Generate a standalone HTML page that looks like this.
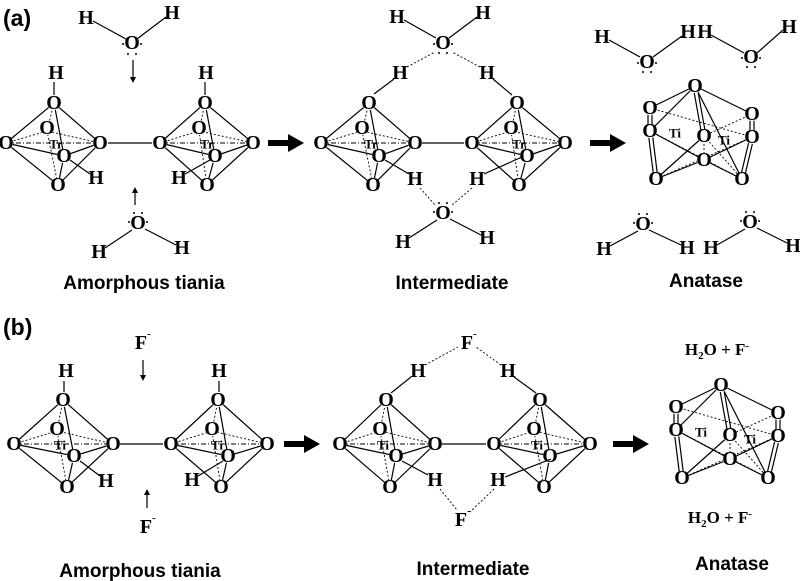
<!DOCTYPE html>
<html><head><meta charset="utf-8"><style>
html,body{margin:0;padding:0;background:#fff}
svg{display:block}
.o{font-family:"Liberation Serif",serif;font-weight:bold;font-size:20px;text-anchor:middle;dominant-baseline:central}
.t{font-family:"Liberation Serif",serif;font-weight:bold;font-size:13px;text-anchor:middle;dominant-baseline:central}
.lab{font-family:"Liberation Sans",sans-serif;font-weight:bold;font-size:19px;text-anchor:middle}
.s{stroke:#000;stroke-width:1.2;fill:none}
.d{stroke:#000;stroke-width:0.9;fill:none;stroke-dasharray:2 2}
.dd{stroke:#000;stroke-width:0.9;fill:none;stroke-dasharray:5 2 1 2}
.w{fill:#fff}
</style></head><body>
<svg width="800" height="581" viewBox="0 0 800 581" xmlns="http://www.w3.org/2000/svg">
<defs>
<g id="ar"><rect x="0" y="-3" width="22" height="6"/><polygon points="20,-9 36,0 20,9"/></g>
</defs>

<text x="3" y="26" font-family="Liberation Sans,sans-serif" font-weight="bold" font-size="23">(a)</text>
<text x="3" y="335" font-family="Liberation Sans,sans-serif" font-weight="bold" font-size="23">(b)</text>

<!-- ========== (a) amorphous ========== -->
<g transform="translate(6,143)">
<path class="s" d="M0,0 L48,-40 L94,0 L52,42 Z M0,0 L58,13 L94,0 M48,-40 L58,13 L52,42"/>
<path class="d" d="M0,0 L41,-12 L94,0 M48,-40 L41,-12 L52,42"/><path class="dd" d="M0,0 L94,0"/>
<circle class="w" cx="0" cy="0" r="7"/><circle class="w" cx="48" cy="-40" r="7"/><circle class="w" cx="94" cy="0" r="7"/><circle class="w" cx="52" cy="42" r="7"/><circle class="w" cx="41" cy="-15" r="7"/><circle class="w" cx="58" cy="13" r="7"/>
<text class="o" x="0" y="0">O</text><text class="o" x="48" y="-40">O</text><text class="o" x="94" y="0">O</text><text class="o" x="52" y="42">O</text><text class="o" x="41" y="-15">O</text><text class="o" x="58" y="13">O</text><text class="t" x="50" y="1">Tr</text>
</g>
<g transform="translate(160,143)">
<path class="s" d="M0,0 L45,-40 L93,0 L47,42 Z M0,0 L55,13 L93,0 M45,-40 L55,13 L47,42"/>
<path class="d" d="M0,0 L39,-12 L93,0 M45,-40 L39,-12 L47,42"/><path class="dd" d="M0,0 L93,0"/>
<circle class="w" cx="0" cy="0" r="7"/><circle class="w" cx="45" cy="-40" r="7"/><circle class="w" cx="93" cy="0" r="7"/><circle class="w" cx="47" cy="42" r="7"/><circle class="w" cx="39" cy="-15" r="7"/><circle class="w" cx="55" cy="13" r="7"/>
<text class="o" x="0" y="0">O</text><text class="o" x="45" y="-40">O</text><text class="o" x="93" y="0">O</text><text class="o" x="47" y="42">O</text><text class="o" x="39" y="-15">O</text><text class="o" x="55" y="13">O</text><text class="t" x="47" y="1">Tr</text>
</g>
<path class="s" d="M108,143 L152,143 M54,95 L54,82 M205,95 L205,82 M70,160 L90,174 M210,160 L185,174"/>
<text class="o" x="56" y="73">H</text><text class="o" x="206" y="73">H</text><text class="o" x="96" y="178">H</text><text class="o" x="179" y="178">H</text>
<!-- top water -->
<path class="s" d="M93,21 L126,39 M166,17 L137,39"/>
<text class="o" x="86" y="18">H</text><text class="o" x="172" y="13">H</text>
<text class="o" x="132" y="43">O</text><circle cx="123" cy="44" r="1"/><circle cx="141" cy="44" r="1"/><circle cx="128" cy="54" r="1"/><circle cx="136" cy="54" r="1"/>
<path class="s" d="M133,60 L133,80"/><polygon points="130,77 136,77 133,83"/>
<!-- bottom water -->
<path class="s" d="M135,205 L135,190"/><polygon points="132,193 138,193 135,187"/>
<text class="o" x="138" y="223">O</text><circle cx="129" cy="222" r="1"/><circle cx="147" cy="222" r="1"/><circle cx="134" cy="213" r="1"/><circle cx="142" cy="213" r="1"/>
<path class="s" d="M132,230 L105,248 M145,229 L176,245"/>
<text class="o" x="99" y="252">H</text><text class="o" x="182" y="248">H</text>
<text class="lab" x="144" y="289">Amorphous tiania</text>

<use href="#ar" x="268" y="143"/>

<!-- ========== (a) intermediate ========== -->
<g transform="translate(321,143)">
<path class="s" d="M0,0 L48,-40 L94,0 L52,42 Z M0,0 L58,13 L94,0 M48,-40 L58,13 L52,42"/>
<path class="d" d="M0,0 L41,-12 L94,0 M48,-40 L41,-12 L52,42"/><path class="dd" d="M0,0 L94,0"/>
<circle class="w" cx="0" cy="0" r="7"/><circle class="w" cx="48" cy="-40" r="7"/><circle class="w" cx="94" cy="0" r="7"/><circle class="w" cx="52" cy="42" r="7"/><circle class="w" cx="41" cy="-15" r="7"/><circle class="w" cx="58" cy="13" r="7"/>
<text class="o" x="0" y="0">O</text><text class="o" x="48" y="-40">O</text><text class="o" x="94" y="0">O</text><text class="o" x="52" y="42">O</text><text class="o" x="41" y="-15">O</text><text class="o" x="58" y="13">O</text><text class="t" x="50" y="1">Tr</text>
</g>
<g transform="translate(472,143)">
<path class="s" d="M0,0 L45,-40 L93,0 L47,42 Z M0,0 L55,13 L93,0 M45,-40 L55,13 L47,42"/>
<path class="d" d="M0,0 L39,-12 L93,0 M45,-40 L39,-12 L47,42"/><path class="dd" d="M0,0 L93,0"/>
<circle class="w" cx="0" cy="0" r="7"/><circle class="w" cx="45" cy="-40" r="7"/><circle class="w" cx="93" cy="0" r="7"/><circle class="w" cx="47" cy="42" r="7"/><circle class="w" cx="39" cy="-15" r="7"/><circle class="w" cx="55" cy="13" r="7"/>
<text class="o" x="0" y="0">O</text><text class="o" x="45" y="-40">O</text><text class="o" x="93" y="0">O</text><text class="o" x="47" y="42">O</text><text class="o" x="39" y="-15">O</text><text class="o" x="55" y="13">O</text><text class="t" x="47" y="1">Tr</text>
</g>
<path class="s" d="M422,143 L464,143 M374,94 L394,79 M512,95 L493,79 M385,160 L409,174 M522,157 L484,174"/>
<text class="o" x="400" y="73">H</text><text class="o" x="487" y="73">H</text><text class="o" x="415" y="179">H</text><text class="o" x="477" y="179">H</text>
<path class="s" d="M404,20 L436,38 M477,17 L449,38"/>
<text class="o" x="397" y="17">H</text><text class="o" x="483" y="13">H</text>
<text class="o" x="443" y="43">O</text><circle cx="434" cy="44" r="1"/><circle cx="452" cy="44" r="1"/><circle cx="439" cy="53" r="1"/><circle cx="447" cy="53" r="1"/>
<path class="d" d="M407,67 L435,52 M480,67 L452,52 M420,188 L436,206 M472,188 L451,206"/>
<text class="o" x="443" y="213">O</text><circle cx="434" cy="212" r="1"/><circle cx="452" cy="212" r="1"/><circle cx="439" cy="203" r="1"/><circle cx="447" cy="203" r="1"/>
<path class="s" d="M437,220 L409,238 M450,219 L481,235"/>
<text class="o" x="403" y="242">H</text><text class="o" x="487" y="238">H</text>
<text class="lab" x="452" y="289">Intermediate</text>

<use href="#ar" x="590" y="143"/>

<!-- ========== (a) anatase ========== -->
<g id="an">
<path class="s" d="M695,86 L650,108 M695,86 L752,114 M695,86 L650,131 M695,86 L742,179 M693,86 L702,136 M697,86 L706,136 M648,108 L648,131 M652,108 L652,131 M648,131 L654,179 M652,131 L658,179 M650,131 L704,160 M656,179 L704,160 M704,160 L742,179 M704,160 L752,137 M740,179 L750,137 M744,179 L754,137 M750,114 L750,137 M754,114 L754,137 M656,179 L704,136"/>
<path class="d" d="M650,108 L752,137 M752,114 L704,136 M656,179 L752,137 M704,136 L742,179 M650,131 L742,179 M704,136 L704,160"/>
<circle class="w" cx="695" cy="86" r="7"/><circle class="w" cx="650" cy="108" r="7"/><circle class="w" cx="752" cy="114" r="7"/><circle class="w" cx="650" cy="131" r="7"/><circle class="w" cx="704" cy="136" r="7"/><circle class="w" cx="752" cy="137" r="7"/><circle class="w" cx="704" cy="160" r="7"/><circle class="w" cx="656" cy="179" r="7"/><circle class="w" cx="742" cy="179" r="7"/>
<text class="o" x="695" y="86">O</text><text class="o" x="650" y="108">O</text><text class="o" x="752" y="114">O</text><text class="o" x="650" y="131">O</text><text class="o" x="704" y="136">O</text><text class="o" x="752" y="137">O</text><text class="o" x="704" y="160">O</text><text class="o" x="656" y="179">O</text><text class="o" x="742" y="179">O</text>
<text class="t" x="675" y="133">Ti</text><text class="t" x="724" y="140">Ti</text>
</g>
<path class="s" d="M609,40 L640,57 M682,36 L653,57 M711,35 L744,53 M783,30 L757,53"/>
<text class="o" x="602" y="37">H</text><text class="o" x="688" y="32">H</text><text class="o" x="705" y="32">H</text><text class="o" x="789" y="27">H</text>
<text class="o" x="647" y="62">O</text><circle cx="638" cy="63" r="1"/><circle cx="656" cy="63" r="1"/><circle cx="643" cy="72" r="1"/><circle cx="651" cy="72" r="1"/>
<text class="o" x="751" y="57">O</text><circle cx="742" cy="58" r="1"/><circle cx="760" cy="58" r="1"/><circle cx="747" cy="67" r="1"/><circle cx="755" cy="67" r="1"/>
<text class="o" x="643" y="224">O</text><circle cx="634" cy="223" r="1"/><circle cx="652" cy="223" r="1"/><circle cx="639" cy="214" r="1"/><circle cx="647" cy="214" r="1"/>
<text class="o" x="750" y="222">O</text><circle cx="741" cy="221" r="1"/><circle cx="759" cy="221" r="1"/><circle cx="746" cy="212" r="1"/><circle cx="754" cy="212" r="1"/>
<path class="s" d="M638,231 L610,246 M649,230 L681,245 M745,229 L717,245 M757,228 L787,243"/>
<text class="o" x="604" y="249">H</text><text class="o" x="687" y="248">H</text><text class="o" x="711" y="248">H</text><text class="o" x="793" y="246">H</text>
<text class="lab" x="706" y="287">Anatase</text>

<!-- ========== (b) amorphous ========== -->
<g transform="translate(14,444)">
<path class="s" d="M0,0 L49,-44 L99,0 L53,43 Z M0,0 L60,12 L99,0 M49,-44 L60,12 L53,43"/>
<path class="d" d="M0,0 L43,-13 L99,0 M49,-44 L43,-13 L53,43"/><path class="dd" d="M0,0 L99,0"/>
<circle class="w" cx="0" cy="0" r="7"/><circle class="w" cx="49" cy="-44" r="7"/><circle class="w" cx="99" cy="0" r="7"/><circle class="w" cx="53" cy="43" r="7"/><circle class="w" cx="43" cy="-15" r="7"/><circle class="w" cx="60" cy="12" r="7"/>
<text class="o" x="0" y="0">O</text><text class="o" x="49" y="-44">O</text><text class="o" x="99" y="0">O</text><text class="o" x="53" y="43">O</text><text class="o" x="43" y="-15">O</text><text class="o" x="60" y="12">O</text><text class="t" x="46" y="1">Ti</text>
</g>
<g transform="translate(171,444)">
<path class="s" d="M0,0 L47,-44 L96,0 L50,43 Z M0,0 L57,12 L96,0 M47,-44 L57,12 L50,43"/>
<path class="d" d="M0,0 L41,-13 L96,0 M47,-44 L41,-13 L50,43"/><path class="dd" d="M0,0 L96,0"/>
<circle class="w" cx="0" cy="0" r="7"/><circle class="w" cx="47" cy="-44" r="7"/><circle class="w" cx="96" cy="0" r="7"/><circle class="w" cx="50" cy="43" r="7"/><circle class="w" cx="41" cy="-15" r="7"/><circle class="w" cx="57" cy="12" r="7"/>
<text class="o" x="0" y="0">O</text><text class="o" x="47" y="-44">O</text><text class="o" x="96" y="0">O</text><text class="o" x="50" y="43">O</text><text class="o" x="41" y="-15">O</text><text class="o" x="57" y="12">O</text><text class="t" x="46" y="1">Ti</text>
</g>
<path class="s" d="M120,444 L163,444 M64,392 L64,381 M219,392 L219,381 M80,461 L100,476 M223,461 L198,476"/>
<text class="o" x="66" y="371">H</text><text class="o" x="219" y="371">H</text><text class="o" x="106" y="481">H</text><text class="o" x="192" y="480">H</text>
<text class="o" x="141" y="343">F</text><text x="147" y="337" font-family="Liberation Serif,serif" font-weight="bold" font-size="11">-</text>
<path class="s" d="M143,360 L143,378"/><polygon points="140,375 146,375 143,381"/>
<path class="s" d="M147,508 L147,492"/><polygon points="144,495 150,495 147,489"/>
<text class="o" x="146" y="527">F</text><text x="152" y="521" font-family="Liberation Serif,serif" font-weight="bold" font-size="11">-</text>
<text class="lab" x="140" y="577">Amorphous tiania</text>

<use href="#ar" x="284" y="444"/>

<!-- ========== (b) intermediate ========== -->
<g transform="translate(340,444)">
<path class="s" d="M0,0 L46,-44 L95,0 L50,43 Z M0,0 L56,12 L95,0 M46,-44 L56,12 L50,43"/>
<path class="d" d="M0,0 L40,-13 L95,0 M46,-44 L40,-13 L50,43"/><path class="dd" d="M0,0 L95,0"/>
<circle class="w" cx="0" cy="0" r="7"/><circle class="w" cx="46" cy="-44" r="7"/><circle class="w" cx="95" cy="0" r="7"/><circle class="w" cx="50" cy="43" r="7"/><circle class="w" cx="40" cy="-15" r="7"/><circle class="w" cx="56" cy="12" r="7"/>
<text class="o" x="0" y="0">O</text><text class="o" x="46" y="-44">O</text><text class="o" x="95" y="0">O</text><text class="o" x="50" y="43">O</text><text class="o" x="40" y="-15">O</text><text class="o" x="56" y="12">O</text><text class="t" x="43" y="1">Ti</text>
</g>
<g transform="translate(494,444)">
<path class="s" d="M0,0 L46,-44 L96,0 L50,43 Z M0,0 L56,12 L96,0 M46,-44 L56,12 L50,43"/>
<path class="d" d="M0,0 L40,-13 L96,0 M46,-44 L40,-13 L50,43"/><path class="dd" d="M0,0 L96,0"/>
<circle class="w" cx="0" cy="0" r="7"/><circle class="w" cx="46" cy="-44" r="7"/><circle class="w" cx="96" cy="0" r="7"/><circle class="w" cx="50" cy="43" r="7"/><circle class="w" cx="40" cy="-15" r="7"/><circle class="w" cx="56" cy="12" r="7"/>
<text class="o" x="0" y="0">O</text><text class="o" x="46" y="-44">O</text><text class="o" x="96" y="0">O</text><text class="o" x="50" y="43">O</text><text class="o" x="40" y="-15">O</text><text class="o" x="56" y="12">O</text><text class="t" x="43" y="1">Ti</text>
</g>
<path class="s" d="M442,444 L486,444 M391,393 L411,377 M536,393 L514,377 M402,461 L428,475 M551,459 L505,477"/>
<text class="o" x="418" y="371">H</text><text class="o" x="508" y="371">H</text><text class="o" x="435" y="480">H</text><text class="o" x="498" y="480">H</text>
<text class="o" x="467" y="343">F</text><text x="473" y="337" font-family="Liberation Serif,serif" font-weight="bold" font-size="11">-</text>
<path class="d" d="M425,365 L458,347 M501,365 L476,347 M440,489 L457,510 M494,489 L470,512"/>
<text class="o" x="461" y="520">F</text><text x="467" y="514" font-family="Liberation Serif,serif" font-weight="bold" font-size="11">-</text>
<text class="lab" x="473" y="575">Intermediate</text>

<use href="#ar" x="613" y="444"/>

<!-- ========== (b) anatase ========== -->
<use href="#an" x="26" y="299"/>
<text x="717" y="355" font-family="Liberation Serif,serif" font-weight="bold" font-size="17" text-anchor="middle">H<tspan font-size="11" dy="4">2</tspan><tspan dy="-4">O + F</tspan><tspan font-size="11" dy="-6">-</tspan></text>
<text x="720" y="523" font-family="Liberation Serif,serif" font-weight="bold" font-size="17" text-anchor="middle">H<tspan font-size="11" dy="4">2</tspan><tspan dy="-4">O + F</tspan><tspan font-size="11" dy="-6">-</tspan></text>
<text class="lab" x="732" y="570">Anatase</text>
</svg>
</body></html>
